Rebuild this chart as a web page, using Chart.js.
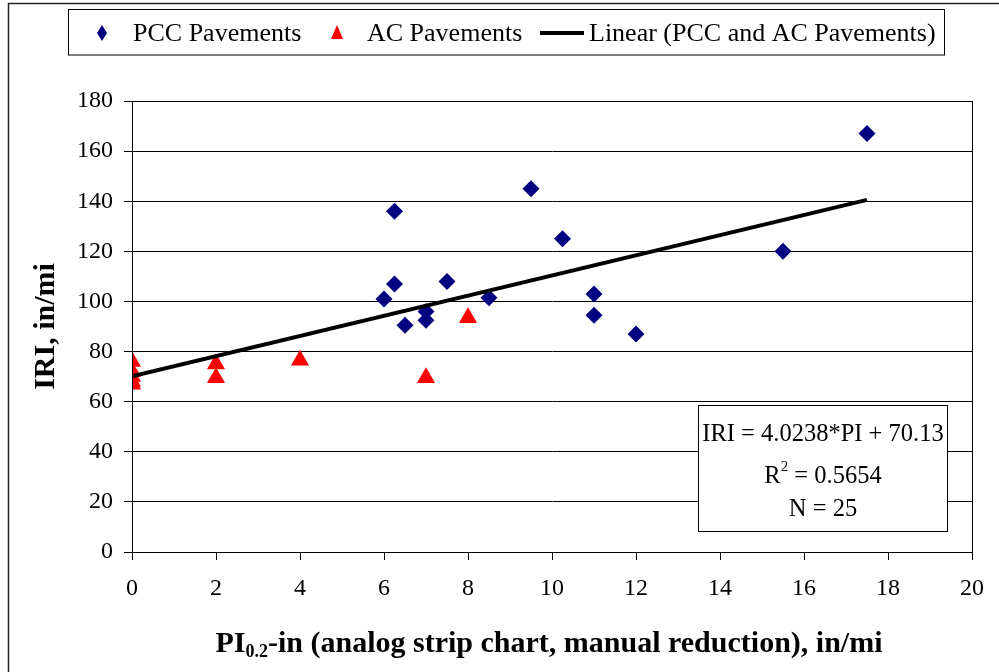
<!DOCTYPE html>
<html>
<head>
<meta charset="utf-8">
<script src="https://cdn.jsdelivr.net/npm/chart.js@4.4.1/dist/chart.umd.min.js"></script>
<style>
  html, body { margin: 0; padding: 0; background: #fff; }
  #wrap { width: 999px; height: 672px; position: relative; }
</style>
</head>
<body>
<div id="wrap"><canvas id="c" width="999" height="672"></canvas></div>
<script>
// PCC pavements: profile index vs IRI
const pccX = [6, 6.25, 6.25, 6.5, 7, 7, 7.5, 8.5, 9.5, 10.25, 11, 11, 12, 15.5, 17.5];
const pccY = [101, 136, 107, 90.5, 96, 92.5, 108, 101.5, 145, 125, 103, 94.5, 87, 120, 167];

// AC pavements
const acX = [0, 0, 0, 0, 0, 2, 2, 4, 7, 8];
const acY = [76, 72, 70, 68, 67, 75, 69.5, 76.5, 69.5, 93.5];

// Linear fit over both pavement types
const fitSlope = 4.0238;
const fitIntercept = 70.13;
const fitR2 = '0.5654';
const sampleCount = 25;
const fitRangeX = [0, 17.5];

const xTicks = [0, 2, 4, 6, 8, 10, 12, 14, 16, 18, 20];
const yTicks = [0, 20, 40, 60, 80, 100, 120, 140, 160, 180];

const seriesNames = ['PCC Pavements', 'AC Pavements', 'Linear (PCC and AC Pavements)'];
const xTitleMain = 'PI';
const xTitleSub = '0.2';
const xTitleRest = '-in (analog strip chart, manual reduction), in/mi';
const yTitle = 'IRI, in/mi';

const SERIF = "'Liberation Serif', 'Times New Roman', serif";
const NAVY = '#000080';
const RED = '#ff0000';

const toPoints = (xs, ys) => xs.map((x, i) => ({ x, y: ys[i] }));
const fitPoints = fitRangeX.map(x => ({ x, y: fitSlope * x + fitIntercept }));

// Frame, legend, axis titles and the regression box
const decorations = {
  id: 'decorations',
  beforeDraw(chart) {
    const ctx = chart.ctx;
    ctx.save();
    ctx.fillStyle = '#fff';
    ctx.fillRect(0, 0, chart.width, chart.height);
    ctx.restore();
  },
  afterDraw(chart) {
    const ctx = chart.ctx;
    const area = chart.chartArea;
    ctx.save();

    // outer frame
    ctx.strokeStyle = '#222';
    ctx.lineWidth = 1.5;
    ctx.strokeRect(8.5, 3.5, 1100, 800);

    // plot area border
    ctx.strokeStyle = '#000';
    ctx.lineWidth = 1;
    ctx.strokeRect(Math.round(area.left) + 0.5, Math.round(area.top) + 0.5,
                   Math.round(area.right - area.left), Math.round(area.bottom - area.top));

    // legend
    ctx.lineWidth = 1;
    ctx.strokeStyle = '#000';
    ctx.strokeRect(68.5, 9.5, 876, 45.5);
    const ly = 33;
    ctx.fillStyle = NAVY;
    ctx.beginPath();
    ctx.moveTo(102, ly - 8); ctx.lineTo(107, ly); ctx.lineTo(102, ly + 8); ctx.lineTo(97, ly);
    ctx.closePath(); ctx.fill();
    ctx.fillStyle = RED;
    ctx.beginPath();
    ctx.moveTo(337, ly - 8); ctx.lineTo(343, ly + 6); ctx.lineTo(331, ly + 6);
    ctx.closePath(); ctx.fill();
    ctx.strokeStyle = '#000';
    ctx.lineWidth = 4;
    ctx.beginPath(); ctx.moveTo(540, ly); ctx.lineTo(584, ly); ctx.stroke();
    ctx.fillStyle = '#000';
    ctx.font = '26px ' + SERIF;
    ctx.textBaseline = 'middle';
    ctx.textAlign = 'left';
    ctx.fillText(seriesNames[0], 133, ly + 1);
    ctx.fillText(seriesNames[1], 367, ly + 1);
    ctx.fillText(seriesNames[2], 589, ly + 1);

    // y axis title
    ctx.save();
    ctx.translate(46, (area.top + area.bottom) / 2);
    ctx.rotate(-Math.PI / 2);
    ctx.font = 'bold 30px ' + SERIF;
    ctx.textAlign = 'center';
    ctx.textBaseline = 'middle';
    ctx.fillText(yTitle, 0, 0);
    ctx.restore();

    // x axis title with subscript
    const mainFont = 'bold 30px ' + SERIF;
    const subFont = 'bold 18px ' + SERIF;
    ctx.textAlign = 'left';
    ctx.textBaseline = 'alphabetic';
    ctx.font = mainFont; const w1 = ctx.measureText(xTitleMain).width;
    const w3 = ctx.measureText(xTitleRest).width;
    ctx.font = subFont; const w2 = ctx.measureText(xTitleSub).width;
    let tx = 549 - (w1 + w2 + w3) / 2;
    const by = 652;
    ctx.font = mainFont; ctx.fillText(xTitleMain, tx, by); tx += w1;
    ctx.font = subFont; ctx.fillText(xTitleSub, tx, by + 5); tx += w2;
    ctx.font = mainFont; ctx.fillText(xTitleRest, tx, by);

    // regression box
    const bx = 698.5, bt = 405.5, bw = 249, bh = 126;
    ctx.fillStyle = '#fff';
    ctx.fillRect(bx, bt, bw, bh);
    ctx.strokeStyle = '#000';
    ctx.lineWidth = 1;
    ctx.strokeRect(bx, bt, bw, bh);
    ctx.fillStyle = '#000';
    const cx = bx + bw / 2;
    ctx.font = '24.5px ' + SERIF;
    ctx.textAlign = 'center';
    ctx.textBaseline = 'alphabetic';
    ctx.fillText('IRI = ' + fitSlope.toFixed(4) + '*PI + ' + fitIntercept.toFixed(2), cx, 441);
    // R² line
    const rA = 'R', rB = '2', rC = ' = ' + fitR2;
    ctx.font = '24.5px ' + SERIF; const ra = ctx.measureText(rA).width, rc = ctx.measureText(rC).width;
    ctx.font = '15px ' + SERIF; const rb = ctx.measureText(rB).width;
    let rx = cx - (ra + rb + rc) / 2;
    ctx.textAlign = 'left';
    ctx.font = '24.5px ' + SERIF; ctx.fillText(rA, rx, 483); rx += ra;
    ctx.font = '15px ' + SERIF; ctx.fillText(rB, rx, 471); rx += rb;
    ctx.font = '24.5px ' + SERIF; ctx.fillText(rC, rx, 483);
    ctx.textAlign = 'center';
    ctx.fillText('N = ' + sampleCount, cx, 516);

    ctx.restore();
  }
};

new Chart(document.getElementById('c'), {
  type: 'scatter',
  data: {
    datasets: [
      {
        label: seriesNames[2],
        data: fitPoints,
        showLine: true,
        borderColor: '#000',
        borderWidth: 4,
        pointRadius: 0,
        order: 0
      },
      {
        label: seriesNames[0],
        data: toPoints(pccX, pccY),
        pointStyle: 'rectRot',
        pointRadius: 8.5,
        backgroundColor: NAVY,
        borderColor: NAVY,
        borderWidth: 0,
        order: 1
      },
      {
        label: seriesNames[1],
        data: toPoints(acX, acY),
        pointStyle: 'triangle',
        pointRadius: 10.5,
        backgroundColor: RED,
        borderColor: RED,
        borderWidth: 0,
        order: 2
      }
    ]
  },
  options: {
    responsive: false,
    animation: false,
    devicePixelRatio: 1,
    layout: { padding: { top: 101, right: 27, left: 0, bottom: 0 } },
    plugins: { legend: { display: false }, tooltip: { enabled: false } },
    scales: {
      x: {
        type: 'linear',
        min: 0, max: 20,
        afterBuildTicks: s => { s.ticks = xTicks.map(v => ({ value: v })); },
        afterFit: s => { s.height = 120; },
        grid: { drawOnChartArea: false, drawTicks: true, tickLength: 8, color: '#000', tickColor: '#000' },
        border: { color: '#000', width: 1 },
        ticks: { color: '#000', font: { family: SERIF, size: 24 }, padding: 14, maxRotation: 0 }
      },
      y: {
        type: 'linear',
        min: 0, max: 180,
        afterBuildTicks: s => { s.ticks = yTicks.map(v => ({ value: v })); },
        afterFit: s => { s.width = 132; },
        grid: { drawOnChartArea: true, drawTicks: true, tickLength: 8, color: '#000', tickColor: '#000' },
        border: { color: '#000', width: 1 },
        ticks: { color: '#000', font: { family: SERIF, size: 24 }, padding: 11 }
      }
    }
  },
  plugins: [decorations]
});
</script>
</body>
</html>
